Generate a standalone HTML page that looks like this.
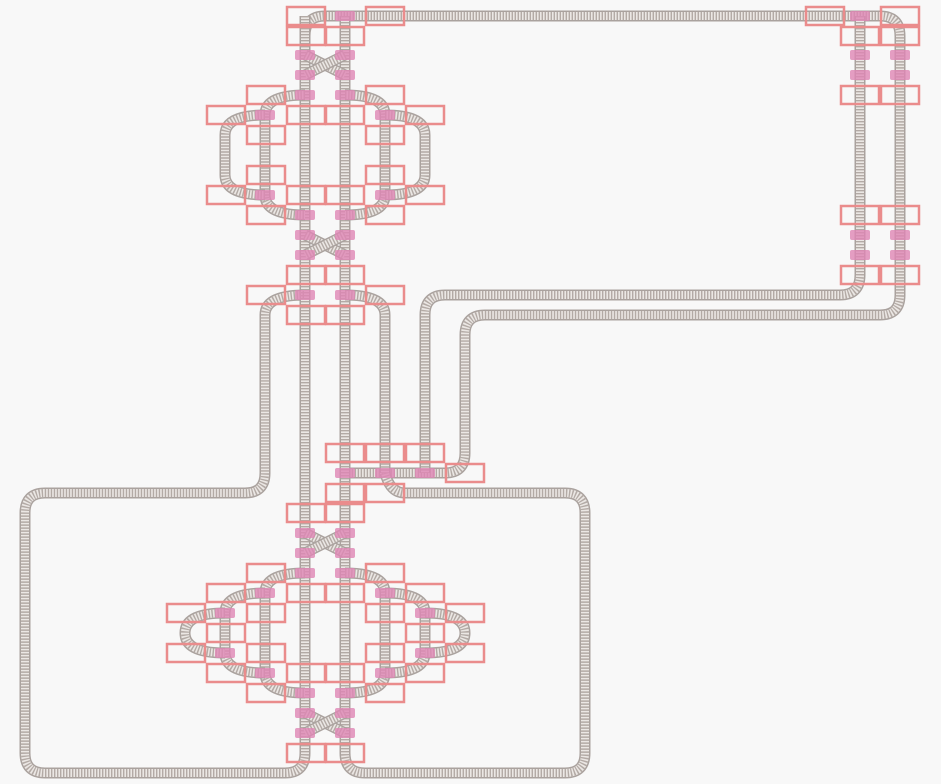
<!DOCTYPE html>
<html><head><meta charset="utf-8"><style>
html,body{margin:0;padding:0;background:#f8f8f8;}
svg{display:block;}
</style></head><body>
<svg id="map" width="941" height="784" viewBox="0 0 941 784" xmlns="http://www.w3.org/2000/svg">
<rect x="0" y="0" width="941" height="784" fill="#f8f8f8"/>
<g id="tracks"></g>
<g id="switches"></g>
<g id="blocks"></g>
</svg>
<script>
const trackPaths = [
 "M305,60 L305,36 Q305,16 325,16 L880,16 Q900,16 900,36 L900,295 Q900,315 880,315 L485,315 Q465,315 465,335 L465,453 Q465,473 445,473 L345,473",
 "M345,16 L345,753 Q345,773 365,773 L565,773 Q585,773 585,753 L585,513 Q585,493 565,493 L405,493 Q390,493 385,473",
 "M305,16 L305,753 Q305,773 285,773 L45,773 Q25,773 25,753 L25,513 Q25,493 45,493 L245,493 Q265,493 265,473 L265,315 Q265,295 305,295",
 "M345,295 Q385,295 385,315 L385,473",
 "M860,16 L860,275 Q860,295 840,295 L445,295 Q425,295 425,315 L425,473",
 "M305,95 Q265,95 265,115 L265,195 Q265,215 305,215",
 "M345,95 Q385,95 385,115 L385,195 Q385,215 345,215",
 "M265,115 Q225,115 225,135 L225,175 Q225,195 265,195",
 "M385,115 Q425,115 425,135 L425,175 Q425,195 385,195",
 "M305,55 L345,75","M345,55 L305,75",
 "M305,235 L345,255","M345,235 L305,255",
 "M305,573 Q265,573 265,593 L265,673 Q265,693 305,693",
 "M345,573 Q385,573 385,593 L385,673 Q385,693 345,693",
 "M265,593 Q225,593 225,613 L225,653 Q225,673 265,673",
 "M385,593 Q425,593 425,613 L425,653 Q425,673 385,673",
 "M225,613 Q185,613 185,633 Q185,653 225,653",
 "M425,613 Q465,613 465,633 Q465,653 425,653",
 "M305,533 L345,553","M345,533 L305,553",
 "M305,713 L345,733","M345,713 L305,733"
];
const switchX = [345,860,305,345,305,345,305,345,265,385,265,385,305,345,305,345,305,345,305,345,345,385,425,305,345,305,345,305,345,265,385,225,425,225,425,265,385,305,345,305,345,305,345];
const switchY = [16,16,55,55,75,75,95,95,115,115,195,195,215,215,235,235,255,255,295,295,473,473,473,533,533,553,553,573,573,593,593,613,613,653,653,673,673,693,693,713,713,733,733];
const rightSwX = [860,900,860,900,860,900,860,900];
const rightSwY = [55,55,75,75,235,235,255,255];
const blockX = [306,385,306,345,266,385,226,306,345,425,266,385,266,385,226,306,345,425,266,385,306,345,266,385,306,345,
 825,900,860,900,860,900,860,900,860,900,
 345,385,425,465,345,385,
 306,345,266,385,226,306,345,425,186,266,385,465,226,425,186,266,385,465,226,306,345,425,266,385,306,345];
const blockY = [16,16,36,36,95,95,115,115,115,115,135,135,175,175,195,195,195,195,215,215,275,275,295,295,315,315,
 16,16,36,36,95,95,215,215,275,275,
 453,453,453,473,493,493,
 513,513,573,573,593,593,593,593,613,613,613,613,633,633,653,653,653,653,673,673,673,673,693,693,753,753];
const NS="http://www.w3.org/2000/svg";
const tg=document.getElementById('tracks');
trackPaths.forEach((d,i)=>{
  const g=document.createElementNS(NS,'g');
  
  
  [[11,'#aaa29e',null],[8,'#ebe7e4',null],[8,'#b3aaa5','1.4 1.6']].forEach(s=>{
    const p=document.createElementNS(NS,'path');
    p.setAttribute('d',d);p.setAttribute('fill','none');
    p.setAttribute('stroke',s[1]);p.setAttribute('stroke-width',s[0]);
    if(s[2])p.setAttribute('stroke-dasharray',s[2]);
    g.appendChild(p);
  });
  tg.appendChild(g);
});
const sg=document.getElementById('switches');
function addSwitch(x,y){
  const r=document.createElementNS(NS,'rect');
  
  
  r.setAttribute('x',x-10);r.setAttribute('y',y-5);r.setAttribute('width',20);r.setAttribute('height',10);
  r.setAttribute('rx',2);r.setAttribute('fill','#de86b4');r.setAttribute('fill-opacity','0.8');
  sg.appendChild(r);
}
switchX.forEach((x,i)=>addSwitch(x,switchY[i]));
rightSwX.forEach((x,i)=>addSwitch(x,rightSwY[i]));
const bg=document.getElementById('blocks');
blockX.forEach((x,i)=>{
  const r=document.createElementNS(NS,'rect');
  
  
  r.setAttribute('x',x-19);r.setAttribute('y',blockY[i]-9);r.setAttribute('width',38);r.setAttribute('height',18);
  r.setAttribute('fill','none');r.setAttribute('stroke','#ea8c8c');r.setAttribute('stroke-width','2.5');
  bg.appendChild(r);
});
</script>
</body></html>
